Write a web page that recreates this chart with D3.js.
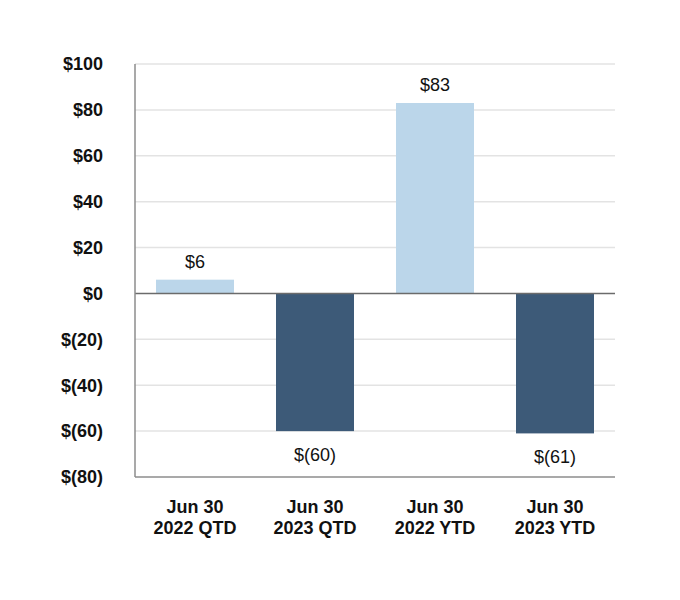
<!DOCTYPE html>
<html>
<head>
<meta charset="utf-8">
<script src="https://cdn.jsdelivr.net/npm/d3@7"></script>
<style>
  html, body { margin: 0; padding: 0; background: #fff; }
  svg { display: block; }
</style>
</head>
<body>
<svg id="chart" width="680" height="600"></svg>
<script>
const categories = [["Jun 30", "2022 QTD"], ["Jun 30", "2023 QTD"], ["Jun 30", "2022 YTD"], ["Jun 30", "2023 YTD"]];
const values = [6, -60, 83, -61];
const valueLabels = ["$6", "$(60)", "$83", "$(61)"];
const yTicks = [100, 80, 60, 40, 20, 0, -20, -40, -60, -80];
const yTickLabels = ["$100", "$80", "$60", "$40", "$20", "$0", "$(20)", "$(40)", "$(60)", "$(80)"];
const barColors = ["#bbd6ea", "#3d5a78", "#bbd6ea", "#3d5a78"];

const svg = d3.select("#chart");
const plotLeft = 135, plotRight = 615, plotTop = 64, plotBottom = 477;
const font = "'Liberation Sans', Arial, sans-serif";

const x = d3.scaleBand().domain(d3.range(categories.length)).range([plotLeft, plotRight]).paddingInner(0.35).paddingOuter(0.175);
const y = d3.scaleLinear().domain([-80, 100]).range([plotBottom, plotTop]);

// gridlines
svg.append("g").selectAll("line").data(yTicks.filter(t => t !== 0 && t !== -80)).join("line")
  .attr("x1", plotLeft).attr("x2", plotRight)
  .attr("y1", d => y(d)).attr("y2", d => y(d))
  .attr("stroke", "#e3e3e3").attr("stroke-width", 1.5);

// bars
svg.append("g").selectAll("rect").data(values).join("rect")
  .attr("x", (d, i) => x(i))
  .attr("width", x.bandwidth())
  .attr("y", d => y(Math.max(0, d)))
  .attr("height", d => Math.abs(y(d) - y(0)))
  .attr("fill", (d, i) => barColors[i]);

// zero line
svg.append("line").attr("x1", plotLeft).attr("x2", plotRight).attr("y1", y(0)).attr("y2", y(0))
  .attr("stroke", "#6b6b6b").attr("stroke-width", 1.5);
// bottom axis line
svg.append("line").attr("x1", plotLeft).attr("x2", plotRight).attr("y1", y(-80)).attr("y2", y(-80))
  .attr("stroke", "#8c8c8c").attr("stroke-width", 1.5);
// left axis line
svg.append("line").attr("x1", plotLeft).attr("x2", plotLeft).attr("y1", y(100)).attr("y2", y(-80))
  .attr("stroke", "#8c8c8c").attr("stroke-width", 1.5);

// y tick labels
svg.append("g").selectAll("text").data(yTicks).join("text")
  .attr("x", 103).attr("y", d => y(d))
  .attr("dy", "0.35em")
  .attr("text-anchor", "end")
  .attr("font-family", font).attr("font-weight", "bold").attr("font-size", 18)
  .attr("fill", "#111")
  .text((d, i) => yTickLabels[i]);

// x labels
const xl = svg.append("g").selectAll("text").data(categories).join("text")
  .attr("x", (d, i) => x(i) + x.bandwidth() / 2)
  .attr("y", 513)
  .attr("text-anchor", "middle")
  .attr("font-family", font).attr("font-weight", "bold").attr("font-size", 18)
  .attr("fill", "#111");
xl.append("tspan").attr("x", (d, i) => x(i) + x.bandwidth() / 2).text(d => d[0]);
xl.append("tspan").attr("x", (d, i) => x(i) + x.bandwidth() / 2).attr("dy", 21).text(d => d[1]);

// value labels
svg.append("g").selectAll("text").data(values).join("text")
  .attr("x", (d, i) => x(i) + x.bandwidth() / 2)
  .attr("y", d => d >= 0 ? y(d) - 12 : y(d) + 30)
  .attr("text-anchor", "middle")
  .attr("font-family", font).attr("font-size", 18)
  .attr("fill", "#111")
  .text((d, i) => valueLabels[i]);
</script>
</body>
</html>
